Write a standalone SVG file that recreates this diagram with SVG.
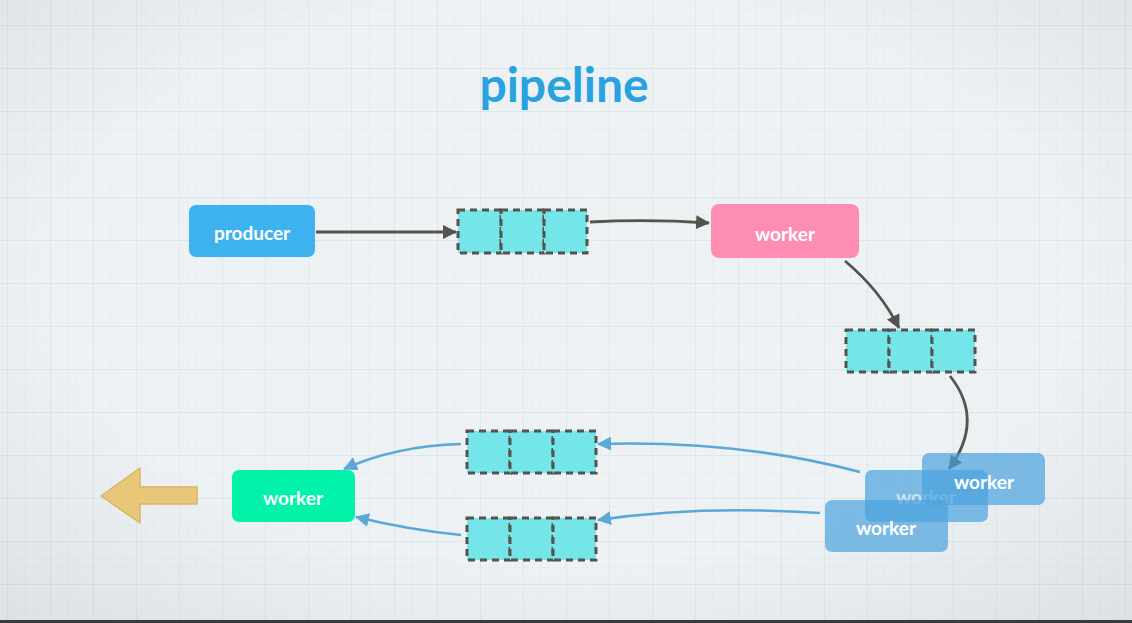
<svg xmlns="http://www.w3.org/2000/svg" width="1132" height="623" viewBox="0 0 1132 623">
<defs>
<pattern id="minor" x="7" y="25" width="8.6" height="8.6" patternUnits="userSpaceOnUse">
<path d="M0 0H8.6M0 0V8.6" fill="none" stroke="#dde6ea" stroke-width="0.6"/>
</pattern>
<pattern id="major" x="7" y="25" width="43" height="43" patternUnits="userSpaceOnUse">
<path d="M0 0H43M0 0V43" fill="none" stroke="#cde3e6" stroke-width="1"/>
</pattern>
<radialGradient id="vig" cx="0.5" cy="0.45" r="0.75">
<stop offset="0.6" stop-color="#000" stop-opacity="0"/>
<stop offset="1" stop-color="#000" stop-opacity="0.07"/>
</radialGradient>
<marker id="ahd" viewBox="0 0 14 14" refX="13" refY="7" markerWidth="14" markerHeight="14" markerUnits="userSpaceOnUse" orient="auto">
<path d="M0 0L14 7L0 14Z" fill="#55534d"/>
</marker>
<marker id="ahb" viewBox="0 0 14 14" refX="13" refY="7" markerWidth="14" markerHeight="14" markerUnits="userSpaceOnUse" orient="auto">
<path d="M0 0L14 7L0 14Z" fill="#5aa8d6"/>
</marker>
<style>
.box text{font-family:"Lato","Open Sans",sans-serif;font-weight:700;fill:#fff;text-anchor:middle;font-size:19px}
.cell{fill:#74e6ea;stroke:#55534d;stroke-width:3;stroke-dasharray:7 5}
.dk{fill:none;stroke:#55534d;stroke-width:2.8;marker-end:url(#ahd)}
.bl{fill:none;stroke:#5aa8d6;stroke-width:2.6;marker-end:url(#ahb)}
.bw{fill:#4aa3de;fill-opacity:0.7}
</style>
</defs>
<rect width="1132" height="623" fill="#eef2f4"/>
<rect width="1132" height="623" fill="url(#minor)"/>
<rect width="1132" height="623" fill="url(#major)"/>
<rect width="1132" height="623" fill="url(#vig)"/>
<rect x="0" y="620" width="1132" height="3" fill="#3a3a3a"/>

<text x="564" y="102" font-family="Lato,'Open Sans',sans-serif" font-weight="700" font-size="48" fill="#29a2e0" text-anchor="middle">pipeline</text>

<g id="connectors">
<path class="dk" d="M316 232L456 232"/>
<path class="dk" d="M590 222Q650 219 709 223"/>
<path class="dk" d="M845 261Q880 290 899 328"/>
<path class="dk" d="M950 376Q985 420 949 469"/>
<path class="bl" d="M860 472Q740 440 598 444"/>
<path class="bl" d="M820 513Q700 505 598 520"/>
<path class="bl" d="M461 444Q395 446 344 469"/>
<path class="bl" d="M461 535Q410 530 356 517"/>
</g>

<g id="producer" class="box">
<rect x="189" y="205" width="126" height="52" rx="7" fill="#3db2ee"/>
<text x="252" y="240">producer</text>
</g>

<g id="queue1">
<rect class="cell" x="458" y="210" width="43" height="43"/>
<rect class="cell" x="501" y="210" width="43" height="43"/>
<rect class="cell" x="544" y="210" width="43" height="43"/>
</g>

<g id="worker1" class="box">
<rect x="711" y="204" width="148" height="54" rx="8" fill="#fe8db2"/>
<text x="785" y="241">worker</text>
</g>

<g id="queue2">
<rect class="cell" x="846" y="330" width="43" height="42"/>
<rect class="cell" x="889" y="330" width="43" height="42"/>
<rect class="cell" x="932" y="330" width="43" height="42"/>
</g>

<g id="worker2" class="box">
<rect class="bw" x="865" y="470" width="123" height="52" rx="7"/>
<text x="926" y="504" opacity="0.6">worker</text>
</g>
<g id="worker3" class="box">
<rect class="bw" x="922" y="453" width="123" height="52" rx="7"/>
<text x="984" y="489">worker</text>
</g>
<g id="worker4" class="box">
<rect class="bw" x="825" y="500" width="123" height="52" rx="7"/>
<text x="886" y="535">worker</text>
</g>

<g id="queue3">
<rect class="cell" x="467" y="431" width="43" height="42"/>
<rect class="cell" x="510" y="431" width="43" height="42"/>
<rect class="cell" x="553" y="431" width="43" height="42"/>
</g>

<g id="queue4">
<rect class="cell" x="467" y="518" width="43" height="42"/>
<rect class="cell" x="510" y="518" width="43" height="42"/>
<rect class="cell" x="553" y="518" width="43" height="42"/>
</g>

<g id="worker5" class="box">
<rect x="232" y="470" width="123" height="52" rx="7" fill="#02f2aa"/>
<text x="293" y="505">worker</text>
</g>

<g id="output-arrow">
<path d="M101 496L140 468L140 487L197 487L197 504L140 504L140 523Z" fill="#e8c878" stroke="#d9b55f" stroke-width="1.5" stroke-linejoin="round"/>
</g>
</svg>
